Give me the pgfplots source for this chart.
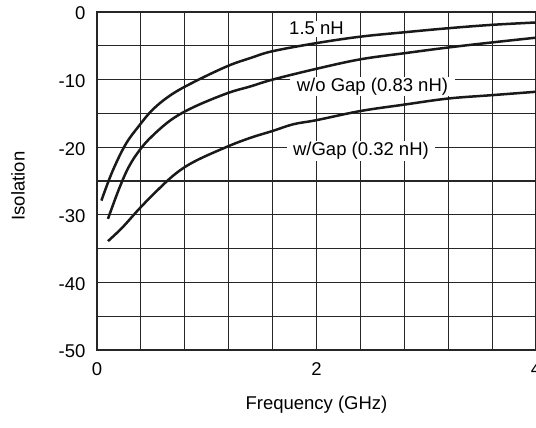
\documentclass[border=0pt]{standalone}
\usepackage{fontspec}
\setmainfont{Liberation Sans}
\usepackage{pgfplots}
\pgfplotsset{compat=1.18}

\newcommand{\lblfont}{\fontsize{18.5}{22}\selectfont}

\begin{document}
\begin{tikzpicture}
\begin{axis}[
    scale only axis,
    width=439pt, height=338pt,
    xmin=0, xmax=4, ymin=-50, ymax=0,
    xtick={0,2,4}, xticklabels={0,2,4},
    ytick={-50,-40,-30,-20,-10,0},
    yticklabels={-50,-40,-30,-20,-10,0},
    minor xtick={0.4,0.8,1.2,1.6,2.4,2.8,3.2,3.6},
    minor ytick={-45,-35,-25,-15,-5},
    grid=both,
    major grid style={black!85, line width=1.1pt},
    minor grid style={black!85, line width=1.1pt},
    axis line style={black!85, line width=1.1pt},
    major tick length=0pt, minor tick length=0pt,
    tick label style={font=\lblfont},
    xticklabel style={yshift=-9pt},
    yticklabel style={xshift=-8pt, yshift=-1.5pt},
    xlabel={Frequency (GHz)},
    ylabel={Isolation},
    every axis x label/.style={at={(axis description cs:0.5,-0.163)}, anchor=center, font=\lblfont},
    every axis y label/.style={at={(axis description cs:-0.18,0.485)}, anchor=center, rotate=90, font=\lblfont},
    clip=false,
]
% 1.5 nH
\addplot[black!90, line width=2.5pt, smooth, tension=0.6] coordinates {
(0.04,-27.9) (0.14,-23.6) (0.26,-19.6) (0.38,-16.9) (0.51,-14.4)
(0.68,-12.2) (0.89,-10.3) (1.19,-8.0) (1.40,-6.8) (1.60,-5.8)
(2.0,-4.6) (2.4,-3.65) (2.8,-3.0) (3.2,-2.4) (3.6,-1.9) (4.0,-1.55)
};
% w/o Gap (0.83 nH)
\addplot[black!90, line width=2.5pt, smooth, tension=0.6] coordinates {
(0.10,-30.6) (0.20,-26.2) (0.29,-22.9) (0.39,-20.4) (0.50,-18.4)
(0.68,-15.9) (0.89,-14.0) (1.19,-12.0) (1.40,-11.0) (1.60,-10.0)
(2.0,-8.4) (2.4,-7.0) (2.8,-6.1) (3.2,-5.25) (3.6,-4.5) (4.0,-3.8)
};
% w/Gap (0.32 nH)
\addplot[black!90, line width=2.5pt, smooth, tension=0.6] coordinates {
(0.10,-33.9) (0.23,-31.9) (0.38,-29.2) (0.53,-26.7) (0.71,-24.0)
(0.89,-22.1) (1.19,-19.9) (1.40,-18.6) (1.60,-17.6) (1.79,-16.6)
(2.0,-16.0) (2.4,-14.65) (2.8,-13.7) (3.2,-12.8) (3.6,-12.3) (4.0,-11.8)
};
\node[fill=white, inner xsep=3pt, inner ysep=1.5pt, font=\lblfont] at (axis cs:2.0,-2.45) {1.5 nH};
\node[fill=white, inner xsep=7pt, inner ysep=1pt, font=\lblfont] at (axis cs:2.51,-11.05) {w/o Gap (0.83 nH)};
\node[fill=white, inner xsep=6pt, inner ysep=1pt, font=\lblfont] at (axis cs:2.405,-20.56) {w/Gap (0.32 nH)};
\end{axis}
\pgfresetboundingbox
\useasboundingbox (-97pt,-78pt) rectangle (439pt,350pt);
\end{tikzpicture}
\end{document}
